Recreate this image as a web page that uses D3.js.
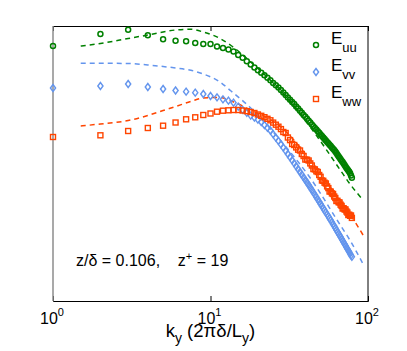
<!DOCTYPE html>
<html>
<head>
<meta charset="utf-8">
<script src="https://cdn.jsdelivr.net/npm/d3@7"></script>
<style>
  body { margin: 0; background: #fff; }
  text { font-family: "Liberation Sans", Arial, sans-serif; fill: #000; }
</style>
</head>
<body>
<script>
// wavenumber k_y (2*pi*delta/L_y), one point per integer k
var kvals = d3.range(1, 80);

// log10 of premultiplied spectra (arbitrary offset)
var euu = [-0.20, -0.08, -0.037, -0.093, -0.133, -0.147, -0.153, -0.17, -0.18, -0.18,
  -0.205, -0.22, -0.235, -0.255, -0.29, -0.318, -0.352, -0.384, -0.415, -0.442,
  -0.468, -0.493, -0.517, -0.543, -0.569, -0.593, -0.616, -0.64, -0.665, -0.69,
  -0.714, -0.738, -0.76, -0.781, -0.804, -0.826, -0.848, -0.868, -0.889, -0.908,
  -0.928, -0.948, -0.966, -0.984, -1.002, -1.019, -1.036, -1.052, -1.068, -1.084,
  -1.10, -1.115, -1.13, -1.145, -1.159, -1.173, -1.187, -1.20, -1.214, -1.228,
  -1.24, -1.254, -1.27, -1.287, -1.303, -1.317, -1.332, -1.347, -1.361, -1.376,
  -1.391, -1.404, -1.419, -1.432, -1.445, -1.458, -1.472, -1.495, -1.517];

var evv = [-0.62, -0.60, -0.58, -0.61, -0.63, -0.645, -0.657, -0.667, -0.68, -0.70,
  -0.713, -0.733, -0.747, -0.767, -0.807, -0.838, -0.868, -0.896, -0.916, -0.937,
  -0.96, -0.99, -1.018, -1.045, -1.082, -1.117, -1.149, -1.183, -1.216, -1.248,
  -1.28, -1.312, -1.343, -1.373, -1.403, -1.432, -1.46, -1.487, -1.514, -1.54,
  -1.565, -1.59, -1.615, -1.64, -1.664, -1.688, -1.712, -1.735, -1.757, -1.78,
  -1.802, -1.823, -1.844, -1.864, -1.884, -1.903, -1.924, -1.942, -1.962, -1.983,
  -2.001, -2.02, -2.039, -2.058, -2.076, -2.093, -2.11, -2.128, -2.146, -2.163,
  -2.18, -2.196, -2.214, -2.23, -2.245, -2.261, -2.277, -2.293, -2.308];

var eww = [-1.11, -1.093, -1.05, -1.02, -0.997, -0.965, -0.933, -0.913, -0.89, -0.875,
  -0.857, -0.847, -0.843, -0.84, -0.84, -0.845, -0.852, -0.86, -0.87, -0.885,
  -0.898, -0.912, -0.928, -0.943, -0.966, -0.987, -1.007, -1.031, -1.06, -1.07,
  -1.115, -1.141, -1.18, -1.19, -1.214, -1.237, -1.245, -1.28, -1.30, -1.335,
  -1.337, -1.345, -1.374, -1.395, -1.43, -1.434, -1.453, -1.46, -1.49, -1.508,
  -1.545, -1.548, -1.567, -1.575, -1.604, -1.621, -1.655, -1.656, -1.674, -1.68,
  -1.705, -1.72, -1.75, -1.748, -1.762, -1.765, -1.787, -1.799, -1.825, -1.822,
  -1.834, -1.835, -1.855, -1.866, -1.89, -1.887, -1.898, -1.895, -1.919];

// dashed model curves
var kline = [1.5, 2, 3, 4, 5, 6, 7.5, 9, 11.5, 13.5, 18, 28, 43, 66, 76, 93];
var luu = [-0.20, -0.175, -0.125, -0.09, -0.06, -0.04, -0.033, -0.06, -0.125, -0.195, -0.36, -0.65, -1.01, -1.43, -1.57, -1.74];
var lvv = [-0.373, -0.373, -0.375, -0.39, -0.405, -0.42, -0.443, -0.48, -0.56, -0.65, -0.82, -1.15, -1.52, -1.98, -2.13, -2.38];
var lww = [-1.0, -0.98, -0.945, -0.895, -0.845, -0.805, -0.755, -0.72, -0.715, -0.75, -0.84, -1.01, -1.34, -1.74, -1.87, -2.09];

var majorTicks = [1, 10, 100];
var tickExp = ["0", "1", "2"];

var svgWidth = 407, svgHeight = 351;
var margin = {top: 26, right: 39, bottom: 50, left: 53};
var width = svgWidth - margin.left - margin.right;
var height = svgHeight - margin.top - margin.bottom;

var cU = "#008000", cV = "#6495ED", cW = "#FF4500";

var svg = d3.select("body").append("svg")
  .attr("width", svgWidth).attr("height", svgHeight);
var g = svg.append("g").attr("transform", `translate(${margin.left},${margin.top})`);

var x = d3.scaleLog().domain([1, 100]).range([0, width]);
var y = d3.scaleLinear().domain([-2.75, 0]).range([height, 0]);

var minor = [2,3,4,5,6,7,8,9,20,30,40,50,60,70,80,90];

// axes: ticks point inward
function axisPair(gen, ty) {
  var a = g.append("g").attr("transform", `translate(0,${ty})`);
  a.call(gen(x).tickValues(minor).tickSize(-3).tickFormat(""));
  a.call(gen(x).tickValues(majorTicks).tickSize(-5).tickFormat(""));
  a.selectAll("path.domain").attr("stroke", "#000");
  a.selectAll("line").attr("stroke", "#000");
  return a;
}
axisPair(d3.axisBottom, height);
axisPair(d3.axisTop, 0);

g.append("line").attr("x1", width).attr("x2", width).attr("y1", 0).attr("y2", height)
  .attr("stroke", "#000");
g.append("line").attr("x1", 0).attr("x2", 0).attr("y1", 0).attr("y2", height)
  .attr("stroke", "#8c8c8c").attr("stroke-width", 1.5);

// tick labels 10^n
majorTicks.forEach(function(t, i) {
  var lab = g.append("text")
    .attr("x", x(t) - 1).attr("y", height + 23)
    .attr("text-anchor", "middle").style("font-size", "16px");
  lab.append("tspan").text("10");
  lab.append("tspan").attr("dy", -8).style("font-size", "11px").text(tickExp[i]);
});

// x label
var xl = g.append("text").attr("x", width / 2).attr("y", height + 36)
  .attr("text-anchor", "middle").style("font-size", "18.5px");
xl.append("tspan").text("k");
xl.append("tspan").attr("dy", 6).style("font-size", "14px").text("y");
xl.append("tspan").attr("dy", -6).text(" (2πδ/L");
xl.append("tspan").attr("dy", 6).style("font-size", "14px").text("y");
xl.append("tspan").attr("dy", -6).text(")");

// dashed lines
var line = d3.line().x(d => x(d[0])).y(d => y(d[1])).curve(d3.curveMonotoneX);
[[luu, cU], [lvv, cV], [lww, cW]].forEach(function(s) {
  g.append("path").datum(kline.map((k, i) => [k, s[0][i]]))
    .attr("d", line).attr("fill", "none").attr("stroke", s[1])
    .attr("stroke-width", 1.5).attr("stroke-dasharray", "5,4");
});

// markers
var diamond = "M0,-3.5L2.6,0L0,3.5L-2.6,0Z";
g.append("g").selectAll("circle").data(kvals).enter().append("circle")
  .attr("cx", (k) => x(k)).attr("cy", (k, i) => y(euu[i])).attr("r", 2.5)
  .attr("fill", "none").attr("stroke", cU).attr("stroke-width", 1.5);
g.append("g").selectAll("path").data(kvals).enter().append("path")
  .attr("transform", (k, i) => `translate(${x(k)},${y(evv[i])})`).attr("d", diamond)
  .attr("fill", "none").attr("stroke", cV).attr("stroke-width", 1.4);
g.append("g").selectAll("rect").data(kvals).enter().append("rect")
  .attr("x", (k) => x(k) - 2.5).attr("y", (k, i) => y(eww[i]) - 2.5)
  .attr("width", 5).attr("height", 5)
  .attr("fill", "none").attr("stroke", cW).attr("stroke-width", 1.4);

// legend
var leg = g.append("g").attr("transform", "translate(263,19)");
var names = ["uu", "vv", "ww"];
names.forEach(function(n, i) {
  var row = leg.append("g").attr("transform", `translate(0,${i * 27})`);
  if (i == 0) row.append("circle").attr("r", 2.5).attr("fill", "none").attr("stroke", cU).attr("stroke-width", 1.5);
  if (i == 1) row.append("path").attr("d", diamond).attr("fill", "none").attr("stroke", cV).attr("stroke-width", 1.4);
  if (i == 2) row.append("rect").attr("x", -2.5).attr("y", -2.5).attr("width", 5).attr("height", 5)
    .attr("fill", "none").attr("stroke", cW).attr("stroke-width", 1.4);
  var t = row.append("text").attr("x", 15).attr("y", -1).style("font-size", "17px");
  t.append("tspan").text("E");
  t.append("tspan").attr("dy", 8).style("font-size", "13px").text(n);
});

// annotation
var ann = g.append("text").attr("x", 23).attr("y", 240)
  .style("font-size", "16px").style("white-space", "pre");
ann.append("tspan").text("z/δ = 0.106,    z");
ann.append("tspan").attr("dy", -6).style("font-size", "11px").text("+");
ann.append("tspan").attr("dy", 6).text(" = 19");
</script>
</body>
</html>
